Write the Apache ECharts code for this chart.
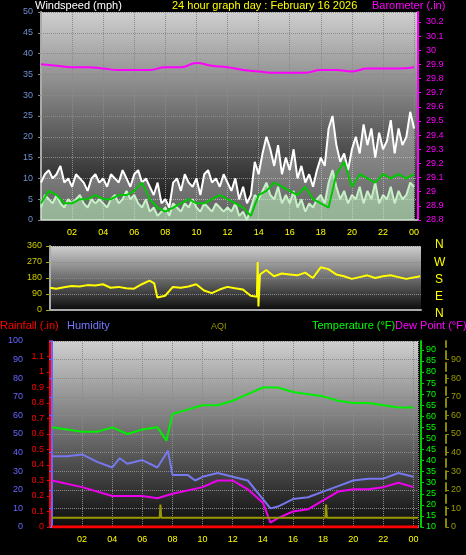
<!DOCTYPE html>
<html>
<head>
<meta charset="utf-8">
<script src="https://cdn.jsdelivr.net/npm/echarts@6/dist/echarts.min.js"></script>
<style>
  html, body { margin: 0; padding: 0; background: #000; }
  #main { width: 466px; height: 555px; }
</style>
</head>
<body>
<div id="main"></div>
<script>
// quarter-hour steps 0..24 for gust / speed
var qHours = [];
for (var q = 0; q <= 96; q++) qHours.push(q / 4);
var gust = [9,11,12,10,11,13,9,10,8,11,10,9,7,10,11,9,
  10,8,11,10,9,12,10,8,11,12,9,10,8,6,9,4,
  5,3,9,10,7,11,9,8,10,6,11,12,9,10,8,11,
  9,7,10,5,8,4,6,14,11,16,20,17,13,18,11,15,
  12,17,10,13,9,11,8,12,15,13,22,25,18,14,16,12,
  17,20,16,23,18,22,15,21,17,19,24,16,22,18,20,26,
  22];
var speed = [3,6,5,4,6,4,3,5,4,5,6,4,3,5,4,5,
  4,3,5,6,4,5,7,5,6,4,3,5,2,3,1,2,
  3,1,4,3,2,4,3,5,3,2,4,3,2,4,3,2,
  3,2,4,1,2,0,3,6,5,7,9,6,5,8,4,6,
  4,7,3,5,2,4,3,5,6,4,9,12,8,5,7,4,
  6,5,8,4,7,5,9,4,6,5,8,4,7,5,6,9,
  8];
// half-hour steps for the average
var hHours = [];
for (var h = 0; h <= 48; h++) hHours.push(h / 2);
var avgWind = [4,7,6,4,4,5,5,6,5,5,6,6,7,9,5,3, 2,3,4,5,4,4,5,6, 5,4,3,1,6,7,9,8, 7,6,8,5,4,3,11,14, 8,11,10,9,11,10,11,10, 11];

var baroHours = [0,1,2,3,4,5,6,7,8,9,10,11,12,13,14,15,16,17,18,19,20,21,22,23,24];
var baro = [29.90,29.89,29.88,29.88,29.87,29.86,29.86,29.86,29.88,29.88,29.91,29.89,29.88,29.86,29.85,29.84,29.84,29.84,29.86,29.86,29.85,29.87,29.87,29.87,29.88];

var dirHours = [0.6,1,1.5,2,2.5,3,3.5,4,4.5,5,5.5,6,6.5,7,7.3,7.5,8,8.5,9,9.5,10,10.5,11,11.5,12,12.5,13,13.5,13.9,13.95,14,14.1,14.5,15,15.5,16,16.5,17,17.5,18,18.5,19,19.5,20,20.5,21,21.5,22,22.5,23,23.5,24.4];
var dir = [125,120,128,135,132,140,138,145,125,130,122,120,145,165,150,70,80,130,125,132,145,110,95,115,130,122,115,80,75,270,20,200,225,190,205,200,195,210,180,240,230,200,190,175,185,195,180,190,195,185,175,190];

var tempHours = [0,1,2,3,4,5,6,7,7.6,8,9,10,11,12,13,14,15,16,17,18,19,20,21,22,23,24];
var temp = [55,54,53,53,55,52,54,55,49,61,63,65,65,67,70,73,73,71,70,69,67,66,66,65,64,64];

var humHours = [0,1,2,3,4,4.5,5,6,7,7.7,8,9,9.5,10,11,12,13,14,14.5,15,16,17,18,19,20,21,22,23,24];
var hum = [38,38,39,35,32,37,34,36,32,41,28,28,25,27,29,27,25,15,10,11,15,16,19,22,25,26,26,29,27];

var dewHours = [0,2,4,6,7,8,10,11,12,13,14,14.5,15,16,17,18,19,20,21,22,23,24];
var dew = [31,28,24,24,23,25,28,31,31,27,21,12,14,17,18,22,26,27,27,28,30,28];

var rainHours = [0,24.3];
var rain = [0,0];

var aqiHours = [0,7.15,7.2,7.2,7.25,18.15,18.2,18.2,18.25,24.3];
var aqi = [5,5,5,12,5,5,5,12,5,5];

function pairs(xs, ys) { return xs.map(function (x, i) { return [x, ys[i]]; }); }

var font = 'Liberation Sans';
var bg = {
  type: 'linear', x: 0, y: 0, x2: 0, y2: 1,
  colorStops: [{ offset: 0, color: '#cfcfcf' }, { offset: 1, color: '#0c0c0c' }]
};
var dotted = { show: true, lineStyle: { color: '#8a8a8a', type: 'dotted', width: 1 } };
function hourLabel(v) {
  if (v === 0) return '';
  var h = v % 24;
  return (h < 10 ? '0' : '') + h;
}
function txt(x, y, s, c, size) {
  return { type: 'text', left: x, top: y, style: { text: s, fill: c, font: (size || 11) + 'px ' + font } };
}

var chart = echarts.init(document.getElementById('main'));
chart.setOption({
  backgroundColor: '#000',
  animation: false,
  textStyle: { fontFamily: font },
  graphic: [
    txt(35, 0, 'Windspeed (mph)', '#fff'),
    txt(172, 0, '24 hour graph day : February 16 2026', '#ff0'),
    txt(372, 0, 'Barometer (.in)', '#f0f'),
    txt(435, 239, 'N', '#ff0', 12),
    txt(434, 257, 'W', '#ff0', 12),
    txt(435, 274, 'S', '#ff0', 12),
    txt(435, 291, 'E', '#ff0', 12),
    txt(435, 308, 'N', '#ff0', 12),
    txt(0, 320, 'Rainfall (.in)', '#f00'),
    txt(67, 320, 'Humidity', '#77f'),
    txt(211, 322, 'AQI', '#990', 9),
    txt(312, 320, 'Temperature (°F)', '#0f0'),
    txt(395, 320, 'Dew Point (°F)', '#f0f')
  ],
  grid: [
    { left: 41, right: 48, top: 12, bottom: 335, show: true, backgroundColor: bg, borderWidth: 0 },
    { left: 50, right: 45, top: 246, bottom: 245, show: true, backgroundColor: bg, borderWidth: 0 },
    { left: 52, right: 48, top: 341, bottom: 28, show: true, backgroundColor: bg, borderWidth: 0 }
  ],
  xAxis: [
    { type: 'value', gridIndex: 0, min: 0, max: 24.25, interval: 2,
      axisLine: { show: true, lineStyle: { color: '#aaa', width: 2 } }, axisTick: { show: false },
      axisLabel: { color: '#ff0', fontSize: 9, formatter: hourLabel, showMaxLabel: false }, splitLine: dotted },
    { type: 'value', gridIndex: 1, min: 0.6, max: 24.45,
      axisLine: { show: true, lineStyle: { color: '#aaa', width: 2 } }, axisTick: { show: false },
      axisLabel: { show: false }, splitLine: { show: false } },
    { type: 'value', gridIndex: 2, min: 0, max: 24.3, interval: 2,
      axisLine: { show: true, lineStyle: { color: '#aaa', width: 2 } }, axisTick: { show: false },
      axisLabel: { color: '#ff0', fontSize: 9, formatter: hourLabel, showMaxLabel: false }, splitLine: dotted }
  ],
  yAxis: [
    { type: 'value', gridIndex: 0, min: 0, max: 50, interval: 5,
      axisLine: { show: true, lineStyle: { color: '#aaa', width: 2 } }, axisTick: { show: true, length: 3, lineStyle: { color: '#888' } },
      axisLabel: { color: '#6f8fcf', fontSize: 9, margin: 8 }, splitLine: dotted },
    { type: 'value', gridIndex: 0, position: 'right', min: 28.8, max: 30.27, interval: 0.1,
      axisLine: { show: true, lineStyle: { color: '#f0f', width: 2 } }, axisTick: { show: true, length: 3, lineStyle: { color: '#f0f' } },
      axisLabel: { color: '#f0f', fontSize: 9, showMaxLabel: false, formatter: function (v) { return v.toFixed(1).replace(/\.0$/, ''); } },
      splitLine: { show: false } },
    { type: 'value', gridIndex: 1, min: 0, max: 360, interval: 90,
      axisLine: { show: true, lineStyle: { color: '#aaa', width: 2 } }, axisTick: { show: true, length: 4, lineStyle: { color: '#aa0' } },
      axisLabel: { color: '#cc0', fontSize: 9 }, splitLine: dotted },
    { type: 'value', gridIndex: 2, position: 'left', offset: 23, min: 0, max: 100, interval: 10,
      axisLine: { show: true, lineStyle: { color: '#66f', width: 2 } }, axisTick: { show: true, length: 3, lineStyle: { color: '#66f' } },
      axisLabel: { color: '#66f', fontSize: 9, margin: 6 }, splitLine: dotted },
    { type: 'value', gridIndex: 2, position: 'left', offset: 2, min: 0, max: 1.2, interval: 0.1,
      axisLine: { show: true, lineStyle: { color: '#f00', width: 2 } }, axisTick: { show: true, length: 3, lineStyle: { color: '#f00' } },
      axisLabel: { color: '#f00', fontSize: 9, margin: 6, showMaxLabel: false, formatter: function (v) { return (+v.toFixed(1)).toString(); } },
      splitLine: { show: false } },
    { type: 'value', gridIndex: 2, position: 'right', offset: 3, min: 10, max: 94, interval: 5,
      axisLine: { show: true, lineStyle: { color: '#0c0', width: 2 } }, axisTick: { show: true, length: 3, lineStyle: { color: '#0c0' } },
      axisLabel: { color: '#0f0', fontSize: 9, margin: 5, showMaxLabel: false }, splitLine: { show: false } },
    { type: 'value', gridIndex: 2, position: 'right', offset: 28, min: 0, max: 100, interval: 10,
      axisLine: { show: true, lineStyle: { color: '#880', width: 2, type: 'dashed' } }, axisTick: { show: true, length: 3, lineStyle: { color: '#880' } },
      axisLabel: { color: '#990', fontSize: 9, margin: 5, showMaxLabel: false }, splitLine: { show: false } }
  ],
  series: [
    { type: 'line', xAxisIndex: 0, yAxisIndex: 0, data: pairs(qHours, gust), symbol: 'none',
      lineStyle: { color: '#fff', width: 2 }, areaStyle: { color: 'rgba(235,235,235,0.55)', origin: 'start' } },
    { type: 'line', xAxisIndex: 0, yAxisIndex: 0, data: pairs(qHours, speed), symbol: 'none',
      lineStyle: { color: '#c8f0c8', width: 2 }, areaStyle: { color: 'rgba(190,240,190,0.8)', origin: 'start' } },
    { type: 'line', xAxisIndex: 0, yAxisIndex: 0, data: pairs(hHours, avgWind), symbol: 'none',
      lineStyle: { color: '#00c800', width: 2 } },
    { type: 'line', xAxisIndex: 0, yAxisIndex: 1, data: pairs(baroHours, baro), symbol: 'none', smooth: true,
      lineStyle: { color: '#f0f', width: 2 } },
    { type: 'line', xAxisIndex: 1, yAxisIndex: 2, data: pairs(dirHours, dir), symbol: 'none',
      lineStyle: { color: '#ff0', width: 2 } },
    { type: 'line', xAxisIndex: 2, yAxisIndex: 3, data: pairs(humHours, hum), symbol: 'none',
      lineStyle: { color: '#77e', width: 2 } },
    { type: 'line', xAxisIndex: 2, yAxisIndex: 5, data: pairs(dewHours, dew), symbol: 'none',
      lineStyle: { color: '#e0e', width: 2 } },
    { type: 'line', xAxisIndex: 2, yAxisIndex: 5, data: pairs(tempHours, temp), symbol: 'none',
      lineStyle: { color: '#0e0', width: 2 } },
    { type: 'line', xAxisIndex: 2, yAxisIndex: 6, data: pairs(aqiHours, aqi), symbol: 'none',
      lineStyle: { color: '#990', width: 2 } },
    { type: 'line', xAxisIndex: 2, yAxisIndex: 4, data: pairs(rainHours, rain), symbol: 'none',
      lineStyle: { color: '#f00', width: 3 } }
  ]
});
</script>
</body>
</html>
